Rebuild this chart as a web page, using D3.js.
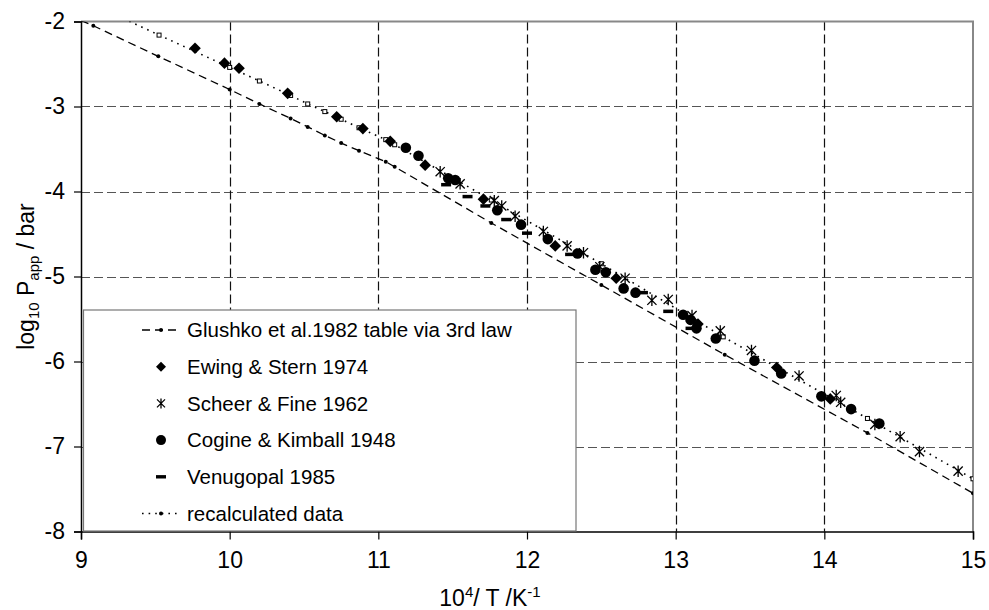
<!DOCTYPE html>
<html>
<head>
<meta charset="utf-8">
<script src="https://cdn.jsdelivr.net/npm/d3@7"></script>
<style>
  body { margin: 0; background: #fff; }
  svg { display: block; font-family: "Liberation Sans", Arial, sans-serif; }
</style>
</head>
<body>
<svg id="chart" width="989" height="610"></svg>
<script>
// Axis ticks
const xTicks = [9, 10, 11, 12, 13, 14, 15];
const yTicks = [-2, -3, -4, -5, -6, -7, -8];

// Glushko et al. 1982 table via 3rd law (dashed line with small dots)
const glushkoX = [9.0, 9.083, 9.52, 10.0, 10.2, 10.41, 10.525, 10.64, 10.75, 10.87, 11.05, 11.11, 11.76, 12.5, 13.33, 14.29, 15.0];
const glushkoY = [-1.99, -2.05, -2.41, -2.80, -2.97, -3.14, -3.24, -3.34, -3.43, -3.52, -3.65, -3.71, -4.37, -5.10, -5.92, -6.84, -7.55];

// Recalculated data (dotted line with small open squares)
const recalcX = [9.083, 9.525, 10.0, 10.2, 10.41, 10.525, 10.64, 10.75, 10.87, 11.05, 11.11, 11.76, 12.5, 13.32, 14.29, 15.0];
const recalcY = [-1.80, -2.16, -2.54, -2.70, -2.87, -2.97, -3.06, -3.15, -3.25, -3.39, -3.45, -4.10, -4.85, -5.71, -6.67, -7.38];

// Ewing & Stern 1974
const ewingX = [9.767, 9.965, 10.063, 10.39, 10.72, 10.896, 11.08, 11.315, 11.707, 12.19, 12.60, 13.15, 13.68, 14.04];
const ewingY = [-2.315, -2.49, -2.55, -2.845, -3.12, -3.26, -3.41, -3.69, -4.09, -4.64, -5.02, -5.56, -6.07, -6.44];

// Scheer & Fine 1962
const scheerX = [11.416, 11.55, 11.78, 11.83, 11.92, 12.11, 12.27, 12.38, 12.49, 12.66, 12.84, 12.95, 13.11, 13.30, 13.51, 13.83, 14.08, 14.11, 14.34, 14.51, 14.64, 14.90];
const scheerY = [-3.767, -3.91, -4.108, -4.17, -4.29, -4.47, -4.64, -4.72, -4.885, -5.02, -5.28, -5.27, -5.46, -5.64, -5.87, -6.17, -6.40, -6.48, -6.74, -6.885, -7.06, -7.29];

// Cogine & Kimball 1948
const cogineX = [11.185, 11.27, 11.47, 11.517, 11.80, 11.96, 12.14, 12.34, 12.46, 12.53, 12.65, 12.73, 13.05, 13.10, 13.14, 13.27, 13.53, 13.71, 13.98, 14.18, 14.37];
const cogineY = [-3.485, -3.58, -3.845, -3.865, -4.22, -4.39, -4.56, -4.73, -4.92, -4.95, -5.14, -5.19, -5.45, -5.51, -5.61, -5.73, -5.99, -6.14, -6.41, -6.56, -6.73];

// Venugopal 1985
const venuX = [11.456, 11.60, 11.72, 11.86, 12.0, 12.29, 12.78, 12.95, 13.10];
const venuY = [-3.92, -4.06, -4.17, -4.33, -4.49, -4.74, -5.19, -5.41, -5.61];

const legendLabels = [
  "Glushko et al.1982 table via 3rd law",
  "Ewing & Stern 1974",
  "Scheer & Fine 1962",
  "Cogine & Kimball 1948",
  "Venugopal 1985",
  "recalculated data"
];

const zip = (xs, ys) => xs.map((v, i) => [v, ys[i]]);

const svg = d3.select("#chart");
const plotLeft = 81, plotRight = 973, plotTop = 21.5, plotBottom = 531.5;
const x = d3.scaleLinear().domain([9, 15]).range([plotLeft, plotRight]);
const y = d3.scaleLinear().domain([-8, -2]).range([plotBottom, plotTop]);

svg.append("defs").append("clipPath").attr("id", "plotClip")
  .append("rect").attr("x", plotLeft).attr("y", plotTop)
  .attr("width", plotRight - plotLeft).attr("height", plotBottom - plotTop);

// Grid
const grid = svg.append("g");
grid.selectAll("line.h").data(yTicks.filter(t => t > -8 && t < -2)).join("line")
  .attr("x1", plotLeft).attr("x2", plotRight)
  .attr("y1", d => Math.round(y(d)) + 0.5).attr("y2", d => Math.round(y(d)) + 0.5)
  .attr("stroke", "#555").attr("stroke-width", 1.2).attr("stroke-dasharray", "9,4");
grid.selectAll("line.v").data(xTicks.filter(t => t > 9 && t < 15)).join("line")
  .attr("y1", plotTop).attr("y2", plotBottom)
  .attr("x1", d => Math.round(x(d)) + 0.5).attr("x2", d => Math.round(x(d)) + 0.5)
  .attr("stroke", "#111").attr("stroke-width", 1.2).attr("stroke-dasharray", "9,4");

// Top and right frame
svg.append("path")
  .attr("d", `M${plotLeft},${plotTop}H${plotRight}V${plotBottom}`)
  .attr("fill", "none").attr("stroke", "#888").attr("stroke-width", 2);

// Axes
const xAxis = d3.axisBottom(x).tickValues(xTicks).tickSize(8).tickPadding(12).tickFormat(d3.format("d"));
const yAxis = d3.axisLeft(y).tickValues(yTicks).tickSize(7).tickPadding(9).tickFormat(d => d3.format("d")(d).replace("\u2212", "-"));

const gx = svg.append("g").attr("transform", `translate(0,${plotBottom})`).call(xAxis);
const gy = svg.append("g").attr("transform", `translate(${plotLeft},0)`).call(yAxis);
[gx, gy].forEach(g => {
  g.select(".domain").attr("stroke", "#000").attr("stroke-width", 1.5);
  g.selectAll(".tick line").attr("stroke", "#000").attr("stroke-width", 1.2);
  g.selectAll(".tick text").attr("fill", "#000").attr("font-size", 23)
    .attr("font-family", "'Liberation Sans', Arial, sans-serif");
});

// Lines
const plot = svg.append("g").attr("clip-path", "url(#plotClip)");
const line = d3.line().x(d => x(d[0])).y(d => y(d[1]));

const glushko = zip(glushkoX, glushkoY);
const recalc = zip(recalcX, recalcY);

plot.append("path").datum(glushko).attr("d", line)
  .attr("fill", "none").attr("stroke", "#000").attr("stroke-width", 1.3).attr("stroke-dasharray", "8,5");
plot.selectAll("circle.g").data(glushko).join("circle")
  .attr("cx", d => x(d[0])).attr("cy", d => y(d[1])).attr("r", 2).attr("fill", "#000");

plot.append("path").datum(recalc).attr("d", line)
  .attr("fill", "none").attr("stroke", "#000").attr("stroke-width", 1.6).attr("stroke-dasharray", "1.6,5");
plot.selectAll("rect.r").data(recalc).join("rect")
  .attr("x", d => x(d[0]) - 2).attr("y", d => y(d[1]) - 2)
  .attr("width", 4).attr("height", 4).attr("fill", "#fff").attr("stroke", "#000").attr("stroke-width", 1);

// Marker shapes
const diamondPath = r => `M0,${-r}L${r},0L0,${r}L${-r},0Z`;
const starPath = r => `M${-r},${-r}L${r},${r}M${-r},${r}L${r},${-r}M0,${-r * 1.25}L0,${r * 1.25}`;

function drawDiamonds(g, data, r) {
  g.selectAll(null).data(data).join("path")
    .attr("transform", d => `translate(${x(d[0])},${y(d[1])})`)
    .attr("d", diamondPath(r)).attr("fill", "#000");
}
function drawStars(g, data, r) {
  g.selectAll(null).data(data).join("path")
    .attr("transform", d => `translate(${x(d[0])},${y(d[1])})`)
    .attr("d", starPath(r)).attr("fill", "none").attr("stroke", "#000").attr("stroke-width", 1.3);
}
function drawCircles(g, data, r) {
  g.selectAll(null).data(data).join("circle")
    .attr("cx", d => x(d[0])).attr("cy", d => y(d[1])).attr("r", r).attr("fill", "#000");
}
function drawDashes(g, data, w, h) {
  g.selectAll(null).data(data).join("rect")
    .attr("x", d => x(d[0]) - w / 2).attr("y", d => y(d[1]) - h / 2)
    .attr("width", w).attr("height", h).attr("fill", "#000");
}

const marks = svg.append("g");
drawDashes(marks, zip(venuX, venuY), 10, 3.5);
drawCircles(marks, zip(cogineX, cogineY), 5.3);
drawDiamonds(marks, zip(ewingX, ewingY), 5.8);
drawStars(marks, zip(scheerX, scheerY), 4.6);

// Legend
const lg = svg.append("g");
const lgLeft = 83.5, lgTop = 310, lgRight = 576, lgBottom = 531;
lg.append("rect").attr("x", lgLeft).attr("y", lgTop)
  .attr("width", lgRight - lgLeft).attr("height", lgBottom - lgTop)
  .attr("fill", "#fff").attr("stroke", "#777").attr("stroke-width", 1.2);

const rowY = i => 330 + i * 36.7;
const symX = 161, textX = 187;

lg.selectAll("text").data(legendLabels).join("text")
  .attr("x", textX).attr("y", (d, i) => rowY(i)).attr("dy", "0.35em")
  .attr("font-size", 20.5).attr("fill", "#000").text(d => d);

// legend samples
const ly0 = rowY(0);
lg.append("line").attr("x1", 142).attr("x2", 181).attr("y1", ly0).attr("y2", ly0)
  .attr("stroke", "#000").attr("stroke-width", 1.3).attr("stroke-dasharray", "8,5");
lg.append("circle").attr("cx", symX).attr("cy", ly0).attr("r", 2).attr("fill", "#000");

lg.append("path").attr("transform", `translate(${symX},${rowY(1)})`).attr("d", diamondPath(5)).attr("fill", "#000");
lg.append("path").attr("transform", `translate(${symX},${rowY(2)})`).attr("d", starPath(4)).attr("fill", "none").attr("stroke", "#000").attr("stroke-width", 1.3);
lg.append("circle").attr("cx", symX).attr("cy", rowY(3)).attr("r", 5).attr("fill", "#000");
lg.append("rect").attr("x", symX - 5).attr("y", rowY(4) - 1.7).attr("width", 10).attr("height", 3.4).attr("fill", "#000");

const ly5 = rowY(5);
lg.append("line").attr("x1", 142).attr("x2", 181).attr("y1", ly5).attr("y2", ly5)
  .attr("stroke", "#000").attr("stroke-width", 1.6).attr("stroke-dasharray", "1.6,5");
lg.append("circle").attr("cx", symX).attr("cy", ly5).attr("r", 2).attr("fill", "#000");

// Axis titles
const yt = svg.append("text")
  .attr("transform", `translate(34,${(plotTop + plotBottom) / 2}) rotate(-90)`)
  .attr("text-anchor", "middle").attr("font-size", 23).attr("fill", "#000");
yt.append("tspan").text("log");
yt.append("tspan").attr("font-size", 15).attr("dy", 5).text("10");
yt.append("tspan").attr("dy", -5).text(" P");
yt.append("tspan").attr("font-size", 15).attr("dy", 5).text("app");
yt.append("tspan").attr("dy", -5).text(" / bar");

const xt = svg.append("text")
  .attr("x", 490).attr("y", 606)
  .attr("text-anchor", "middle").attr("font-size", 23).attr("fill", "#000");
xt.append("tspan").text("10");
xt.append("tspan").attr("font-size", 15).attr("dy", -9).text("4");
xt.append("tspan").attr("dy", 9).text("/ T /K");
xt.append("tspan").attr("font-size", 15).attr("dy", -9).text("-1");
</script>
</body>
</html>
